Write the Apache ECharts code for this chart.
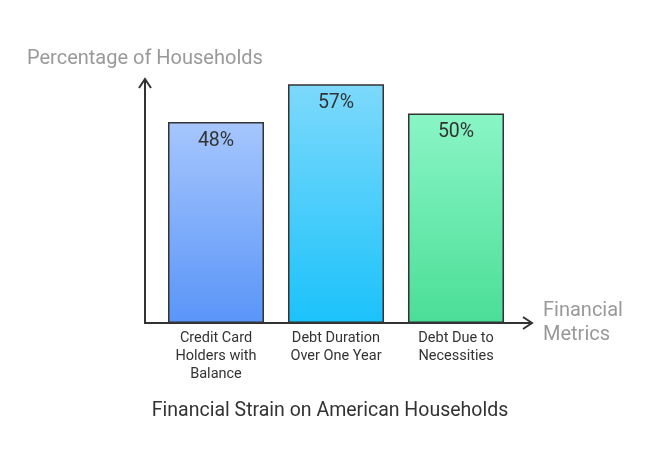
<!DOCTYPE html>
<html><head><meta charset="utf-8">
<script src="https://cdn.jsdelivr.net/npm/echarts@6/dist/echarts.min.js"></script>
<style>html,body{margin:0;padding:0;background:#fff}#c{width:660px;height:468px}</style>
</head><body><div id="c"></div>
<script>
const categories = ['Credit Card\nHolders with\nBalance', 'Debt Duration\nOver One Year', 'Debt Due to\nNecessities'];
const values = [48, 57, 50];
const valueLabels = ['48%', '57%', '50%'];
const gradients = [['#a6c6fd', '#5a95f8'], ['#7dd9fc', '#1bc2fa'], ['#8af5c6', '#4bde97']];
const chart = echarts.init(document.getElementById('c'));
const font = 'Roboto, sans-serif';
chart.setOption({
  animation: false,
  grid: {left: 156, right: 144, top: 78, bottom: 145},
  title: {text: 'Financial Strain on American Households', left: 'center', top: 396,
    textStyle: {fontFamily: font, fontWeight: 'normal', fontSize: 19.5, color: '#333'}},
  xAxis: {type: 'category', data: categories, axisLine: {show: false}, axisTick: {show: false},
    axisLabel: {fontFamily: font, fontSize: 14.5, color: '#333', lineHeight: 18, margin: 6}},
  yAxis: {type: 'value', min: 0, max: 58.5, show: false},
  series: [{type: 'bar', barWidth: 96,
    data: values.map((v, i) => ({value: v, itemStyle: {color: new echarts.graphic.LinearGradient(0, 0, 0, 1,
      [{offset: 0, color: gradients[i][0]}, {offset: 1, color: gradients[i][1]}])}})),
    itemStyle: {borderColor: '#333', borderWidth: 1.5},
    label: {show: true, position: 'insideTop', distance: 9, formatter: p => valueLabels[p.dataIndex],
      fontFamily: font, fontSize: 19.5, color: '#333'}}],
  graphic: [
    {type: 'polyline', shape: {points: [[145, 80], [145, 323], [531, 323]]}, style: {stroke: '#333', lineWidth: 2, fill: null}},
    {type: 'polyline', shape: {points: [[139, 88], [145, 79], [151, 88]]}, style: {stroke: '#333', lineWidth: 2, fill: null}},
    {type: 'polyline', shape: {points: [[523, 317], [532, 323], [523, 329]]}, style: {stroke: '#333', lineWidth: 2, fill: null}},
    {type: 'text', left: 27, top: 49, style: {text: 'Percentage of Households', fontFamily: font, fontSize: 20, fill: '#999'}},
    {type: 'text', left: 543, top: 299, style: {text: 'Financial\nMetrics', fontFamily: font, fontSize: 20, lineHeight: 24, fill: '#999'}}
  ]
});
</script></body></html>
